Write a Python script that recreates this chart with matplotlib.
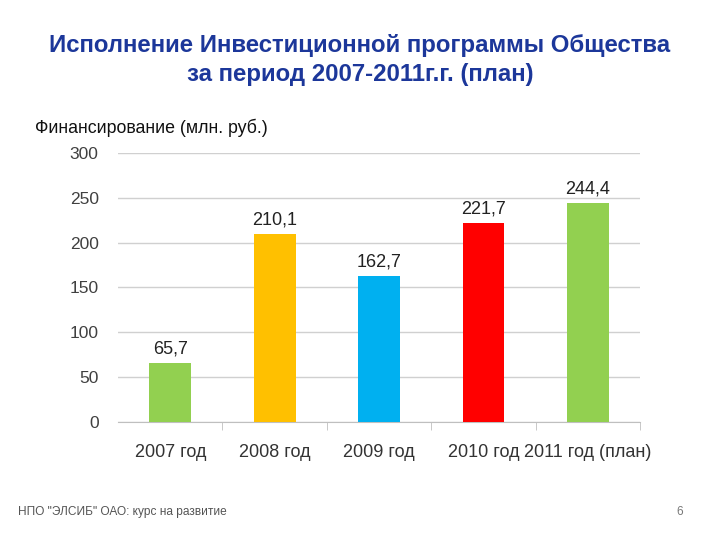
import matplotlib
matplotlib.use("Agg")
import matplotlib.pyplot as plt

plt.rcParams['font.family'] = ['Liberation Sans', 'DejaVu Sans']

categories = ["2007 год", "2008 год", "2009 год", "2010 год", "2011 год (план)"]
values = [65.7, 210.1, 162.7, 221.7, 244.4]
labels = ["65,7", "210,1", "162,7", "221,7", "244,4"]
colors = ["#92D050", "#FFC000", "#00B0F0", "#FF0000", "#92D050"]
yticks = [0, 50, 100, 150, 200, 250, 300]

fig = plt.figure(figsize=(7.2, 5.4), dpi=100)
ax = fig.add_axes([0.164, 0.2185, 0.725, 0.4982])

x = range(len(categories))
ax.bar(x, values, width=0.4, color=colors, zorder=3)
for i, v in enumerate(values):
    ax.text(i, v + 6, labels[i], ha='center', va='bottom', fontsize=13, color='#222222')

ax.set_xlim(-0.5, len(categories) - 0.5)
ax.set_ylim(0, 300)
ax.set_yticks(yticks)
ax.grid(axis='y', color='#D0D0D0', linewidth=1, zorder=0)
for s in ['top', 'right', 'left']:
    ax.spines[s].set_visible(False)
ax.spines['bottom'].set_color('#BFBFBF')
ax.tick_params(axis='y', length=0, labelsize=12.5, labelcolor='#404040', pad=14)
ax.set_xticks(list(x))
ax.set_xticklabels(categories)
ax.tick_params(axis='x', length=0, labelsize=13, labelcolor='#333333', pad=16)
# separators between categories
ax.set_xticks([i + 0.5 for i in range(len(categories))], minor=True)
ax.tick_params(axis='x', which='minor', length=6, color='#BFBFBF')

fig.text(0.5, 0.889, "Исполнение Инвестиционной программы Общества\nза период 2007-2011г.г. (план)",
         ha='center', va='center', fontsize=17.3, fontweight='bold', color='#1C379A', linespacing=1.35)
fig.text(0.048, 0.763, "Финансирование (млн. руб.)", ha='left', va='center', fontsize=12.8, color='#111111')
fig.text(0.025, 0.052, "НПО \"ЭЛСИБ\" ОАО: курс на развитие", ha='left', va='center', fontsize=8.6, color='#555555')
fig.text(0.944, 0.052, "6", ha='center', va='center', fontsize=8.5, color='#777777')

fig.savefig("out.png", dpi=100)
